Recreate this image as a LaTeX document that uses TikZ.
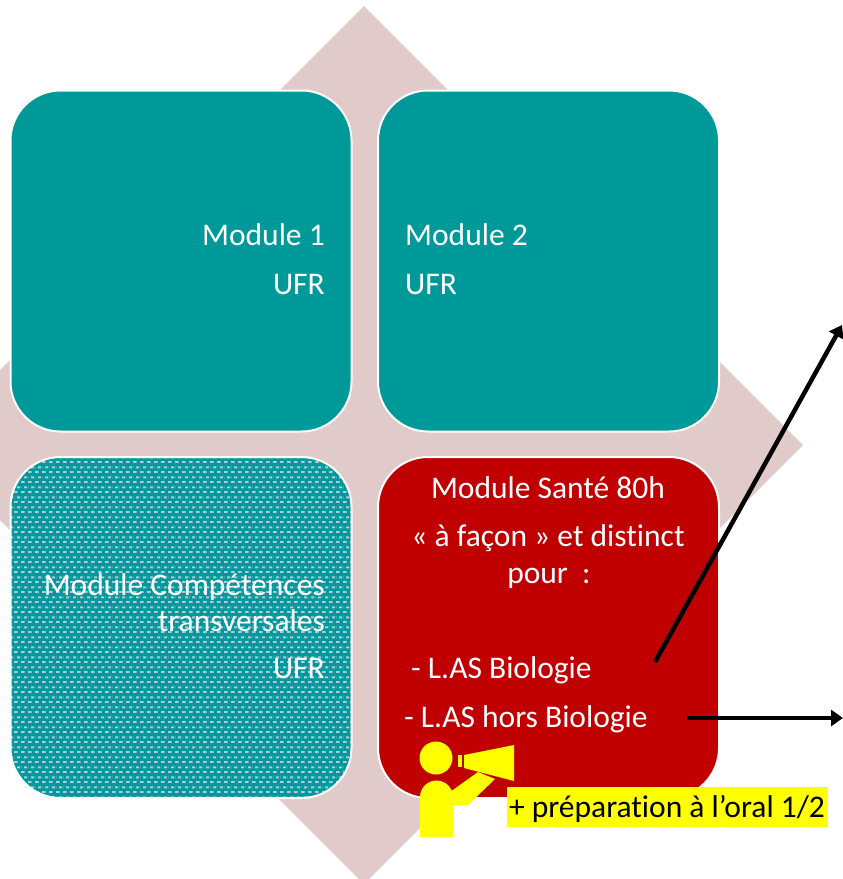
\documentclass[tikz,border=0pt]{standalone}
\usepackage{fontspec}
\setmainfont[Ligatures=NoCommon]{Carlito}
\usetikzlibrary{arrows.meta,patterns}
\pgfdeclarepatternformonly{lasdash}{\pgfqpoint{0pt}{0pt}}{\pgfqpoint{7pt}{9.6pt}}{\pgfqpoint{7pt}{9.6pt}}{%
  \pgfpathrectangle{\pgfqpoint{0pt}{0pt}}{\pgfqpoint{4pt}{2pt}}%
  \pgfpathrectangle{\pgfqpoint{3.5pt}{4.8pt}}{\pgfqpoint{3.5pt}{2pt}}%
  \pgfpathrectangle{\pgfqpoint{0pt}{4.8pt}}{\pgfqpoint{0.5pt}{2pt}}%
  \pgfusepath{fill}}
\definecolor{teal2}{RGB}{0,153,153}
\definecolor{red2}{RGB}{192,0,0}
\definecolor{pink2}{RGB}{224,202,202}
\definecolor{lav}{RGB}{178,200,226}
\definecolor{yel}{RGB}{255,255,0}
\begin{document}
\begin{tikzpicture}[x=1pt,y=-1pt,
  box/.style={draw=white, line width=2pt, rounded corners=50pt, minimum width=341pt, minimum height=341pt, inner sep=0pt},
  txt/.style={text=white, font=\fontsize{31.5}{38}\selectfont, inner sep=0pt},
  arr/.style={line width=4.5pt, -{Triangle[length=12pt,width=16pt]}},
  icon/.style={fill=yel, draw=none}]
\useasboundingbox (0,0) rectangle (843,879);
% diamond background
\fill[pink2] (364,6) -- (803,445) -- (364,884) -- (-75,445) -- cycle;
% boxes
\node[box, fill=teal2] (m1) at (181,261) {};
\node[box, fill=teal2] (m2) at (548.5,261) {};
\node[box, preaction={fill=teal2}, pattern=lasdash, pattern color=lav] (m3) at (181,627.5) {};
\node[box, fill=red2] (m4) at (548.5,627.5) {};
% texts
\node[txt, anchor=base east] (t1a) at (325,245) {Module 1};
\node[txt, anchor=base east] (t1b) at (325,294) {UFR};
\node[txt, anchor=base west] (t2a) at (405,245) {Module 2};
\node[txt, anchor=base west] (t2b) at (405,294) {UFR};
\node[txt, anchor=base east] (t3a) at (325,595) {Module Compétences};
\node[txt, anchor=base east] (t3b) at (325,631) {transversales};
\node[txt, anchor=base east] (t3c) at (325,678) {UFR};
\node[txt, anchor=base] (t4a) at (548,498) {Module Santé 80h};
\node[txt, anchor=base] (t4b) at (548,546) {« à façon » et distinct};
\node[txt, anchor=base] (t4c) at (549,583) {pour\ \ :};
\node[txt, anchor=base west] (t4d) at (411,678) {- L.AS Biologie};
\node[txt, anchor=base west] (t4e) at (404,727) {- L.AS hors Biologie};
% arrows
\coordinate (a1s) at (655,662);
\coordinate (a1e) at (842,325);
\coordinate (a2s) at (687,718);
\coordinate (a2e) at (843,718);
\draw[arr] (a1s) -- (a1e);
\draw[arr] (a2s) -- (a2e);
% megaphone person icon
\fill[icon] (436,758) circle[radius=16.5];
\fill[icon] (420,837) -- (420,797) arc[start angle=180, end angle=360, radius=16.5] -- (453,837) -- cycle;
\fill[icon] (450,792) -- (478,772) -- (495,779) -- (468,805) -- (450,805) -- cycle;
\fill[icon] (458,755) rectangle (462,767);
\fill[icon] (464,755) -- (514,745) -- (514,781) -- (464,768) -- cycle;
% label
\node[fill=yel, inner sep=0pt, minimum width=321pt, minimum height=40pt, anchor=north west] (lab) at (507,787) {};
\node[anchor=base, inner sep=0pt, text=black, font=\fontsize{31.5}{38}\selectfont] (labt) at (667,817) {+ préparation à l’oral 1/2};
\end{tikzpicture}
\end{document}
